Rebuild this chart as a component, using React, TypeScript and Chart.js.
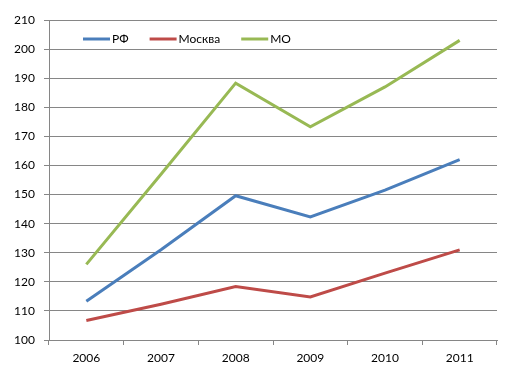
import React, { useEffect, useRef } from "react";
import { Chart, registerables } from "chart.js";

Chart.register(...registerables);

const years = ["2006", "2007", "2008", "2009", "2010", "2011"];
const rf = [113.3, 131, 149.6, 142.3, 151.5, 162];
const moscow = [106.7, 112.3, 118.4, 114.8, 123, 131];
const mo = [126, 157, 188.3, 173.3, 187, 203];
const seriesNames = ["РФ", "Москва", "МО"];
const seriesColors = ["#4a7ebb", "#be4b48", "#98b954"];
const yMin = 100;
const yMax = 210;
const yStep = 10;

const FONT = "Lato, 'Open Sans', sans-serif";

const innerLegend = {
  id: "innerLegend",
  afterDatasetsDraw(chart: any) {
    const ctx = chart.ctx;
    const area = chart.chartArea;
    ctx.save();
    ctx.font = `12px ${FONT}`;
    ctx.textBaseline = "middle";
    ctx.fillStyle = "#000";
    let x = area.left + 34;
    const y = area.top + 19;
    chart.data.datasets.forEach((ds: any) => {
      ctx.strokeStyle = ds.borderColor;
      ctx.lineWidth = 3;
      ctx.beginPath();
      ctx.moveTo(x, y);
      ctx.lineTo(x + 27, y);
      ctx.stroke();
      x += 29;
      ctx.fillText(ds.label, x, y);
      x += ctx.measureText(ds.label).width + 21;
    });
    ctx.restore();
  },
};

export default function App() {
  const ref = useRef<HTMLCanvasElement | null>(null);
  useEffect(() => {
    if (!ref.current) return;
    const data = [rf, moscow, mo];
    const chart = new Chart(ref.current, {
      type: "line",
      data: {
        labels: years,
        datasets: data.map((d, i) => ({
          label: seriesNames[i],
          data: d,
          borderColor: seriesColors[i],
          backgroundColor: seriesColors[i],
          borderWidth: 3,
          pointRadius: 0,
          tension: 0,
          fill: false,
        })),
      },
      options: {
        animation: false,
        responsive: false,
        maintainAspectRatio: false,
        layout: { padding: { top: 20, right: 13, left: 0, bottom: 0 } },
        plugins: { legend: { display: false }, tooltip: { enabled: false } },
        scales: {
          x: {
            offset: true,
            grid: {
              offset: true,
              drawOnChartArea: false,
              tickLength: 5,
              color: "#868686",
            },
            border: { color: "#868686" },
            ticks: { color: "#000", font: { family: FONT, size: 12 }, padding: 6 },
            afterFit: (s: any) => {
              s.height = 42;
            },
          },
          y: {
            min: yMin,
            max: yMax,
            ticks: {
              stepSize: yStep,
              color: "#000",
              font: { family: FONT, size: 12 },
              padding: 9,
            },
            grid: { color: "#868686", tickLength: 5 },
            border: { color: "#868686" },
            afterFit: (s: any) => {
              s.width = 49;
            },
          },
        },
      },
      plugins: [innerLegend],
    });
    return () => chart.destroy();
  }, []);
  return (
    <div style={{ position: "fixed", left: 0, top: 0, width: 510, height: 382, background: "#fff" }}>
      <canvas ref={ref} width={510} height={382} style={{ width: 510, height: 382 }} />
    </div>
  );
}
